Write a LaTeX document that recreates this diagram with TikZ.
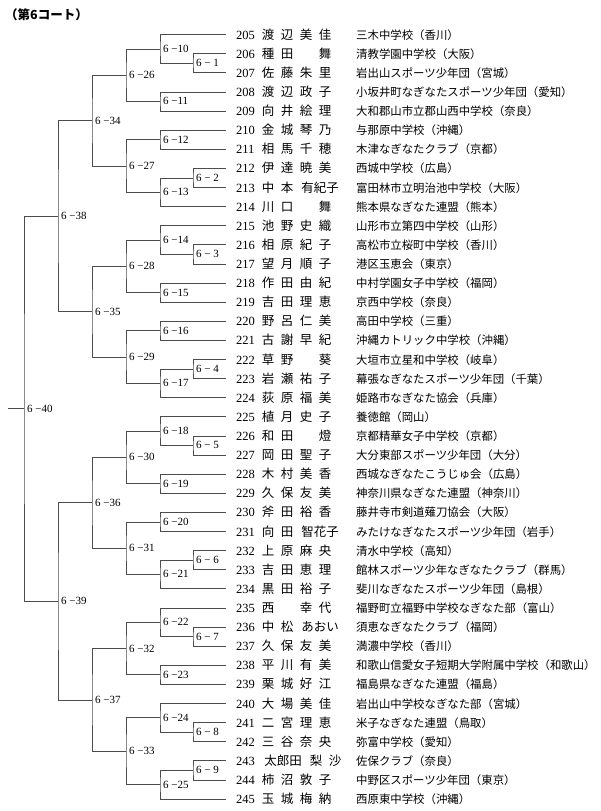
\documentclass[tikz,border=0pt]{standalone}
\usepackage{fontspec}
\setmainfont{Liberation Serif}
\newfontfamily\jp{Noto Sans CJK JP}
\usetikzlibrary{calc}

\tikzset{
 br/.style={draw=black!70, line width=0.55pt},
 lab/.style={inner sep=0pt, anchor=west, font=\fontsize{11}{11}\selectfont},
 numtxt/.style={inner sep=0pt, anchor=base west, font=\fontsize{12.5}{12.5}\selectfont},
 nm/.style={inner sep=0pt, anchor=base, font=\jp\fontsize{12.5}{12.5}\selectfont},
 sch/.style={inner sep=0pt, anchor=base west, font=\jp\fontsize{11.4}{11.4}\selectfont},
 ttl/.style={inner sep=0pt, anchor=west, font=\jp\bfseries\fontsize{12.5}{12.5}\selectfont},
}

% row y (visual centre) and baseline
\newcommand\RY[1]{34.5+19.11*#1}
\newcommand\BY[1]{34.5+19.11*#1+4.7}

% four filled slots
\newcommand\plA[7]{%
 \node[numtxt] (n#2) at (236,{\BY{#1}}) {#2};
 \node[nm] (a#2) at (268,{\BY{#1}}) {#3};
 \node[nm] (b#2) at (287,{\BY{#1}}) {#4};
 \node[nm] (c#2) at (306,{\BY{#1}}) {#5};
 \node[nm] (d#2) at (325,{\BY{#1}}) {#6};
 \node[sch] (s#2) at (356,{\BY{#1}}) {#7};
}
% slot 3 empty
\newcommand\plB[6]{%
 \node[numtxt] (n#2) at (236,{\BY{#1}}) {#2};
 \node[nm] (a#2) at (268,{\BY{#1}}) {#3};
 \node[nm] (b#2) at (287,{\BY{#1}}) {#4};
 \node[nm] (d#2) at (325,{\BY{#1}}) {#5};
 \node[sch] (s#2) at (356,{\BY{#1}}) {#6};
}
% slot 2 empty
\newcommand\plC[6]{%
 \node[numtxt] (n#2) at (236,{\BY{#1}}) {#2};
 \node[nm] (a#2) at (268,{\BY{#1}}) {#3};
 \node[nm] (c#2) at (306,{\BY{#1}}) {#4};
 \node[nm] (d#2) at (325,{\BY{#1}}) {#5};
 \node[sch] (s#2) at (356,{\BY{#1}}) {#6};
}
% three-character given name
\newcommand\plD[6]{%
 \node[numtxt] (n#2) at (236,{\BY{#1}}) {#2};
 \node[nm] (a#2) at (268,{\BY{#1}}) {#3};
 \node[nm] (b#2) at (287,{\BY{#1}}) {#4};
 \node[nm] (c#2) at (320,{\BY{#1}}) {#5};
 \node[sch] (s#2) at (356,{\BY{#1}}) {#6};
}

\newcommand\match[5]{%
 \coordinate (#1-c) at ($(#3)!0.5!(#4)$);
 \coordinate (#1) at (#1-c -| #2);
 \draw[br] (#3) -| (#1) |- (#4);
 \node[lab] (#1-l) at ([xshift=3pt]#1) {#5};
}

\begin{document}
\begin{tikzpicture}[x=1pt,y=-1pt]
\path[fill=white] (0,0) rectangle (600,811);
\useasboundingbox (0,0) rectangle (600,811);

\node[ttl] (title) at (5,15) {（第6コート）};

% leaf ends
\foreach \i in {0,...,40}{
  \pgfmathtruncatemacro\n{205+\i}
  \coordinate (p\n) at (226,{\RY{\i}});
}
\coordinate (X0) at (24,0);
\coordinate (X1) at (58,0);
\coordinate (X2) at (92,0);
\coordinate (X3) at (126,0);
\coordinate (X4) at (160,0);
\coordinate (X5) at (193,0);
\coordinate (XR) at (8,0);

% players
\plA{0}{205}{渡}{辺}{美}{佳}{三木中学校（香川）}
\plB{1}{206}{種}{田}{舞}{清教学園中学校（大阪）}
\plA{2}{207}{佐}{藤}{朱}{里}{岩出山スポーツ少年団（宮城）}
\plA{3}{208}{渡}{辺}{政}{子}{小坂井町なぎなたスポーツ少年団（愛知）}
\plA{4}{209}{向}{井}{絵}{理}{大和郡山市立郡山西中学校（奈良）}
\plA{5}{210}{金}{城}{琴}{乃}{与那原中学校（沖縄）}
\plA{6}{211}{相}{馬}{千}{穂}{木津なぎなたクラブ（京都）}
\plA{7}{212}{伊}{達}{暁}{美}{西城中学校（広島）}
\plD{8}{213}{中}{本}{有紀子}{富田林市立明治池中学校（大阪）}
\plB{9}{214}{川}{口}{舞}{熊本県なぎなた連盟（熊本）}
\plA{10}{215}{池}{野}{史}{織}{山形市立第四中学校（山形）}
\plA{11}{216}{相}{原}{紀}{子}{高松市立桜町中学校（香川）}
\plA{12}{217}{望}{月}{順}{子}{港区玉恵会（東京）}
\plA{13}{218}{作}{田}{由}{紀}{中村学園女子中学校（福岡）}
\plA{14}{219}{吉}{田}{理}{恵}{京西中学校（奈良）}
\plA{15}{220}{野}{呂}{仁}{美}{高田中学校（三重）}
\plA{16}{221}{古}{謝}{早}{紀}{沖縄カトリック中学校（沖縄）}
\plB{17}{222}{草}{野}{葵}{大垣市立星和中学校（岐阜）}
\plA{18}{223}{岩}{瀬}{祐}{子}{幕張なぎなたスポーツ少年団（千葉）}
\plA{19}{224}{荻}{原}{福}{美}{姫路市なぎなた協会（兵庫）}
\plA{20}{225}{植}{月}{史}{子}{養徳館（岡山）}
\plB{21}{226}{和}{田}{燈}{京都精華女子中学校（京都）}
\plA{22}{227}{岡}{田}{聖}{子}{大分東部スポーツ少年団（大分）}
\plA{23}{228}{木}{村}{美}{香}{西城なぎなたこうじゅ会（広島）}
\plA{24}{229}{久}{保}{友}{美}{神奈川県なぎなた連盟（神奈川）}
\plA{25}{230}{斧}{田}{裕}{香}{藤井寺市剣道薙刀協会（大阪）}
\plD{26}{231}{向}{田}{智花子}{みたけなぎなたスポーツ少年団（岩手）}
\plA{27}{232}{上}{原}{麻}{央}{清水中学校（高知）}
\plA{28}{233}{吉}{田}{恵}{理}{館林スポーツ少年なぎなたクラブ（群馬）}
\plA{29}{234}{黒}{田}{裕}{子}{斐川なぎなたスポーツ少年団（島根）}
\plC{30}{235}{西}{幸}{代}{福野町立福野中学校なぎなた部（富山）}
\plD{31}{236}{中}{松}{あおい}{須恵なぎなたクラブ（福岡）}
\plA{32}{237}{久}{保}{友}{美}{満濃中学校（香川）}
\plA{33}{238}{平}{川}{有}{美}{和歌山信愛女子短期大学附属中学校（和歌山）}
\plA{34}{239}{栗}{城}{好}{江}{福島県なぎなた連盟（福島）}
\plA{35}{240}{大}{場}{美}{佳}{岩出山中学校なぎなた部（宮城）}
\plA{36}{241}{二}{宮}{理}{恵}{米子なぎなた連盟（鳥取）}
\plA{37}{242}{三}{谷}{奈}{央}{弥富中学校（愛知）}
\node[numtxt] (n243) at (236,{\BY{38}}) {243};
\node[nm] (a243) at (283,{\BY{38}}) {太郎田};
\node[nm] (c243) at (316,{\BY{38}}) {梨};
\node[nm] (d243) at (335,{\BY{38}}) {沙};
\node[sch] (s243) at (356,{\BY{38}}) {佐保クラブ（奈良）};
\plA{39}{244}{柿}{沼}{敦}{子}{中野区スポーツ少年団（東京）}
\plA{40}{245}{玉}{城}{梅}{納}{西原東中学校（沖縄）}

% first round
\match{m1}{X5}{p206}{p207}{6 − 1}
\match{m2}{X5}{p212}{p213}{6 − 2}
\match{m3}{X5}{p216}{p217}{6 − 3}
\match{m4}{X5}{p222}{p223}{6 − 4}
\match{m5}{X5}{p226}{p227}{6 − 5}
\match{m6}{X5}{p232}{p233}{6 − 6}
\match{m7}{X5}{p236}{p237}{6 − 7}
\match{m8}{X5}{p241}{p242}{6 − 8}
\match{m9}{X5}{p243}{p244}{6 − 9}
% second round
\match{m10}{X4}{p205}{m1}{6 −10}
\match{m11}{X4}{p208}{p209}{6 −11}
\match{m12}{X4}{p210}{p211}{6 −12}
\match{m13}{X4}{m2}{p214}{6 −13}
\match{m14}{X4}{p215}{m3}{6 −14}
\match{m15}{X4}{p218}{p219}{6 −15}
\match{m16}{X4}{p220}{p221}{6 −16}
\match{m17}{X4}{m4}{p224}{6 −17}
\match{m18}{X4}{p225}{m5}{6 −18}
\match{m19}{X4}{p228}{p229}{6 −19}
\match{m20}{X4}{p230}{p231}{6 −20}
\match{m21}{X4}{m6}{p234}{6 −21}
\match{m22}{X4}{p235}{m7}{6 −22}
\match{m23}{X4}{p238}{p239}{6 −23}
\match{m24}{X4}{p240}{m8}{6 −24}
\match{m25}{X4}{m9}{p245}{6 −25}
% third round
\match{m26}{X3}{m10}{m11}{6 −26}
\match{m27}{X3}{m12}{m13}{6 −27}
\match{m28}{X3}{m14}{m15}{6 −28}
\match{m29}{X3}{m16}{m17}{6 −29}
\match{m30}{X3}{m18}{m19}{6 −30}
\match{m31}{X3}{m20}{m21}{6 −31}
\match{m32}{X3}{m22}{m23}{6 −32}
\match{m33}{X3}{m24}{m25}{6 −33}
% fourth round
\match{m34}{X2}{m26}{m27}{6 −34}
\match{m35}{X2}{m28}{m29}{6 −35}
\match{m36}{X2}{m30}{m31}{6 −36}
\match{m37}{X2}{m32}{m33}{6 −37}
% semi-final
\match{m38}{X1}{m34}{m35}{6 −38}
\match{m39}{X1}{m36}{m37}{6 −39}
% final
\match{m40}{X0}{m38}{m39}{6 −40}
\coordinate (root) at (m40 -| XR);
\draw[br] (m40) -- (root);
\end{tikzpicture}
\end{document}
